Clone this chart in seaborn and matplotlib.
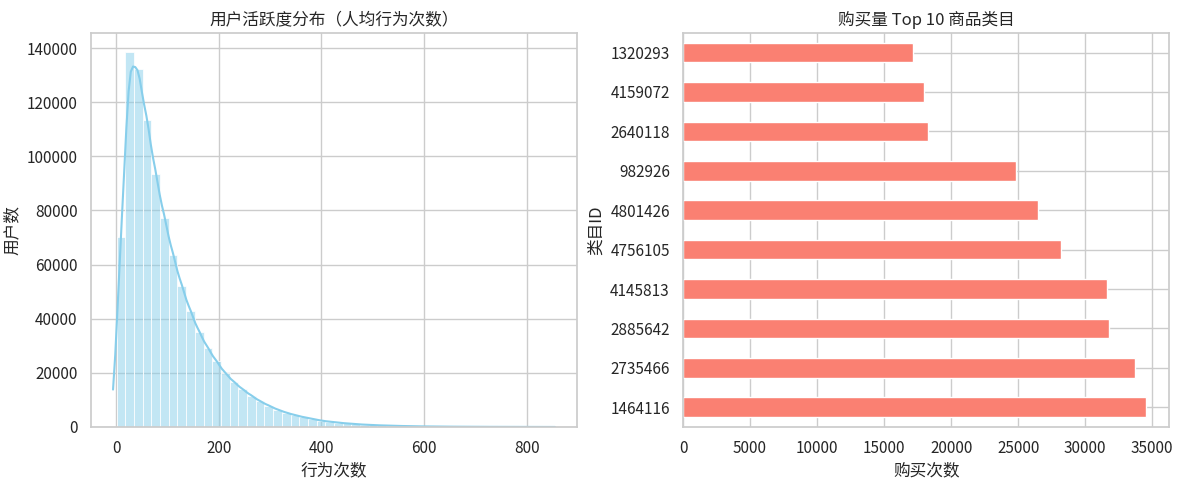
import numpy as np
import pandas as pd
import matplotlib
matplotlib.use("Agg")
import matplotlib.pyplot as plt
import seaborn as sns

# ---- data: user activity histogram (50 bins, counts) ----
act_min = 1
act_max = 848
act_counts = [70200, 138700, 132300, 113400, 93400, 77300, 63400, 52000, 42700, 35000,
              29100, 24200, 19800, 16600, 13900, 11600, 9500, 7900, 6400, 5300,
              4400, 3600, 3000, 2350, 1950, 1600, 1300, 1050, 850, 700,
              570, 460, 380, 310, 250, 200, 165, 135, 110, 90,
              75, 60, 50, 40, 33, 27, 22, 18, 15, 12]

# ---- data: top 10 categories by purchases (top to bottom) ----
cat_ids = ["1320293", "4159072", "2640118", "982926", "4801426",
           "4756105", "4145813", "2885642", "2735466", "1464116"]
cat_buys = [17120, 18010, 18310, 24810, 26500, 28210, 31630, 31780, 33710, 34540]

sns.set_theme(style="whitegrid")
plt.rcParams['font.family'] = ['Noto Sans CJK SC', 'DejaVu Sans']
plt.rcParams['axes.unicode_minus'] = False

nb = len(act_counts)
edges = np.linspace(act_min, act_max, nb + 1)
centers = (edges[:-1] + edges[1:]) / 2
df_act = pd.DataFrame({"行为次数": centers, "w": act_counts})
df_cat = pd.DataFrame({"类目ID": cat_ids, "购买次数": cat_buys})

fig, axes = plt.subplots(1, 2, figsize=(11.81, 4.83), dpi=100)

ax = axes[0]
sns.histplot(data=df_act, x="行为次数", weights="w", bins=nb,
             binrange=(act_min, act_max), kde=True,
             color="skyblue", alpha=0.5, ax=ax,
             kde_kws={"cut": 0.8, "bw_adjust": 0.17}, line_kws={"linewidth": 1.5})
ax.set_title("用户活跃度分布（人均行为次数）")
ax.set_xlabel("行为次数")
ax.set_ylabel("用户数")

ax = axes[1]
sns.barplot(data=df_cat, y="类目ID", x="购买次数", order=cat_ids,
            color="salmon", saturation=1, width=0.5, orient="h", ax=ax)
ax.yaxis.grid(True)
ax.set_axisbelow(True)
ax.set_title("购买量 Top 10 商品类目")
ax.set_xlabel("购买次数")
ax.set_ylabel("类目ID")

fig.subplots_adjust(left=0.077, right=0.99, bottom=0.116, top=0.932, wspace=0.218)
fig.savefig("out.png", dpi=100)
